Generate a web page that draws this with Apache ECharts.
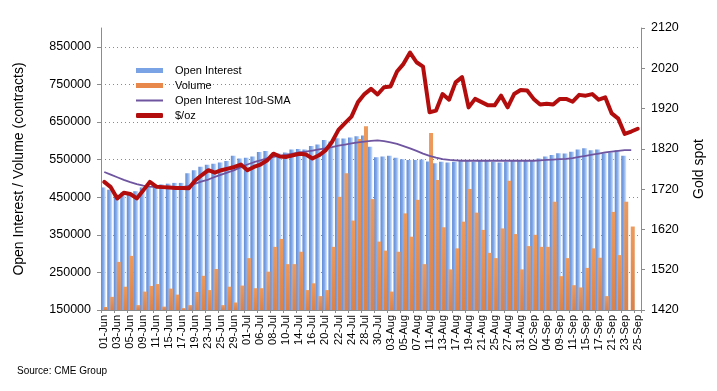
<!DOCTYPE html>
<html>
<head>
<meta charset="utf-8">
<script src="https://cdn.jsdelivr.net/npm/echarts@6/dist/echarts.min.js"></script>
<style>
html,body{margin:0;padding:0;background:#fff;}
#chart{width:717px;height:391px;}
</style>
</head>
<body>
<div id="chart"></div>
<script>
const categories = ['01-Jun','02-Jun','03-Jun','04-Jun','05-Jun','08-Jun','09-Jun','10-Jun','11-Jun','12-Jun','15-Jun','16-Jun','17-Jun','18-Jun','19-Jun','22-Jun','23-Jun','24-Jun','25-Jun','26-Jun','29-Jun','30-Jun',
'01-Jul','02-Jul','06-Jul','07-Jul','08-Jul','09-Jul','10-Jul','13-Jul','14-Jul','15-Jul','16-Jul','17-Jul','20-Jul','21-Jul','22-Jul','23-Jul','24-Jul','27-Jul','28-Jul','29-Jul','30-Jul','31-Jul',
'03-Aug','04-Aug','05-Aug','06-Aug','07-Aug','10-Aug','11-Aug','12-Aug','13-Aug','14-Aug','17-Aug','18-Aug','19-Aug','20-Aug','21-Aug','24-Aug','25-Aug','26-Aug','27-Aug','28-Aug','31-Aug',
'01-Sep','02-Sep','03-Sep','04-Sep','08-Sep','09-Sep','10-Sep','11-Sep','14-Sep','15-Sep','16-Sep','17-Sep','18-Sep','21-Sep','22-Sep','23-Sep','24-Sep','25-Sep'];

const openInterest = [476000,470000,458000,462000,460000,466000,476000,480000,482000,484000,486000,488000,488000,514000,522000,531000,536000,539000,542000,546000,560000,553000,
555000,558000,570000,573000,564000,566000,569000,577000,578000,577000,586000,590000,602000,598000,607000,606000,609000,612000,614000,584000,556000,558000,
560000,555000,551000,549000,549000,550000,545000,540000,544000,542000,544000,546000,547000,544000,547000,547000,544000,542000,544000,549000,549000,
549000,548000,553000,558000,562000,567000,566000,571000,577000,580000,575000,577000,567000,569000,575000,560000,null,null];

const volume = [158000,185000,278000,212000,294000,163000,199000,214000,219000,159000,207000,191000,155000,163000,198000,241000,203000,259000,163000,212000,170000,215000,
288000,208000,208000,252000,318000,339000,272000,272000,305000,203000,221000,187000,203000,318000,451000,514000,388000,605000,639000,445000,332000,308000,
199000,305000,407000,345000,443000,272000,621000,496000,370000,258000,314000,385000,472000,409000,363000,302000,288000,367000,494000,352000,258000,
320000,350000,318000,318000,438000,240000,288000,216000,210000,262000,314000,289000,187000,411000,296000,438000,372000,null];

const oiSma10 = [517000,510000,503000,496000,490000,485000,481000,478000,477000,477000,476000,476000,477000,480000,486000,492000,497000,504000,510000,516000,522000,530000,
537000,543000,548000,553000,557000,560000,563000,566000,569000,571000,574000,577000,580000,583000,587000,590000,593000,596000,598000,600000,601000,599000,
596000,592000,586000,580000,573000,566000,560000,555000,551000,549000,548000,547000,547000,547000,547000,547000,547000,547000,547000,547000,547000,
547000,547000,548000,549000,550000,551000,552000,554000,557000,560000,563000,566000,569000,571000,573000,575000,575000,null];

const goldSpot = [1738,1725,1697,1711,1708,1697,1717,1738,1726,1725,1724,1723,1723,1722,1742,1755,1767,1761,1767,1771,1775,1781,
1767,1775,1781,1791,1808,1801,1800,1804,1808,1806,1796,1804,1816,1837,1867,1884,1900,1936,1956,1969,1955,1973,
1975,2012,2031,2059,2035,2024,1911,1915,1956,1942,1985,1998,1923,1944,1936,1928,1928,1952,1923,1956,1966,
1965,1944,1930,1932,1930,1944,1944,1937,1954,1952,1956,1942,1948,1908,1895,1857,1863,1870];

const leftTicks = {min:150000, max:900000, interval:100000};
const rightTicks = {min:1420, max:2120, interval:100};

const FONT = "'Liberation Sans', Arial, sans-serif";
const chart = echarts.init(document.getElementById('chart'), null, {renderer:'canvas'});

function legendBox(name, top, h, color, icon){
  return {
    data:[{name:name, icon:icon, itemStyle:{color:color}}],
    left:136, top:top, orient:'vertical', padding:0,
    itemWidth:27, itemHeight:h, selectedMode:false,
    textStyle:{fontFamily:FONT, fontSize:11, color:'#000', padding:[0,0,0,7]}
  };
}

const option = {
  animation:false,
  backgroundColor:'#fff',
  grid:{left:101, right:76, top:28, bottom:81, containLabel:false, outerBoundsMode:'none'},
  legend:[
    legendBox('Open Interest', 65, 5, '#7aa3e6', 'rect'),
    legendBox('Volume', 80, 5, '#e8894b', 'rect'),
    legendBox('Open Interest 10d-SMA', 95, 2, '#6f55a0', 'rect'),
    legendBox('$/oz', 110, 5, '#b30d0d', 'roundRect')
  ],
  xAxis:{
    type:'category', data:categories, boundaryGap:true,
    axisLine:{show:true, lineStyle:{color:'#8c8c8c', width:1}},
    axisTick:{show:true, interval:1, length:3, lineStyle:{color:'#8c8c8c'}},
    axisLabel:{interval:1, rotate:90, fontFamily:FONT, fontSize:11, color:'#000', margin:5}
  },
  yAxis:[
    {
      type:'value', min:leftTicks.min, max:leftTicks.max, interval:leftTicks.interval,
      name:'Open Interest / Volume (contracts)', nameLocation:'middle', nameRotate:90, nameGap:75,
      nameTextStyle:{fontFamily:FONT, fontSize:14, color:'#000'},
      axisLine:{show:true, lineStyle:{color:'#8c8c8c'}},
      axisTick:{show:true, length:4, lineStyle:{color:'#8c8c8c'}},
      axisLabel:{fontFamily:FONT, fontSize:12.5, color:'#000', margin:10, showMaxLabel:false,
        formatter:function(v){return v>=900000?'':String(v);}},
      splitLine:{show:true, showMinLine:false, showMaxLine:false, lineStyle:{color:'#8a8a8a', type:[1,3], width:1}}
    },
    {
      type:'value', min:rightTicks.min, max:rightTicks.max, interval:rightTicks.interval,
      name:'Gold spot', nameLocation:'middle', nameRotate:90, nameGap:51,
      nameTextStyle:{fontFamily:FONT, fontSize:14, color:'#000'},
      axisLine:{show:true, lineStyle:{color:'#8c8c8c'}},
      axisTick:{show:true, length:4, lineStyle:{color:'#8c8c8c'}},
      axisLabel:{fontFamily:FONT, fontSize:12.5, color:'#000', margin:10,
        formatter:function(v){return String(v);}},
      splitLine:{show:false}
    }
  ],
  series:[
    {
      name:'Open Interest', type:'bar', yAxisIndex:0, data:openInterest,
      barWidth:5, barGap:'-40%',
      itemStyle:{color:new echarts.graphic.LinearGradient(0,0,1,0,[
        {offset:0,color:'#5f8ad4'},{offset:0.5,color:'#84abe9'},{offset:1,color:'#dbe8f9'}])}
    },
    {
      name:'Volume', type:'bar', yAxisIndex:0, data:volume,
      barWidth:4, barGap:'-40%',
      itemStyle:{color:new echarts.graphic.LinearGradient(0,0,0,1,[
        {offset:0,color:'#ee9a5c'},{offset:1,color:'#d9824b'}])}
    },
    {
      name:'Open Interest 10d-SMA', type:'line', yAxisIndex:0, data:oiSma10,
      showSymbol:false, symbol:'none', color:'#6f55a0',
      lineStyle:{color:'#6f55a0', width:1.8}, z:3
    },
    {
      name:'$/oz', type:'line', yAxisIndex:1, data:goldSpot,
      showSymbol:false, symbol:'none', color:'#b30d0d',
      lineStyle:{color:'#b30d0d', width:4, join:'round', cap:'round'}, z:4
    }
  ],
  graphic:[
    {type:'text', left:17, top:366, style:{text:'Source: CME Group', font:'10px ' + FONT, fill:'#000'}}
  ]
};
chart.setOption(option);
</script>
</body>
</html>
